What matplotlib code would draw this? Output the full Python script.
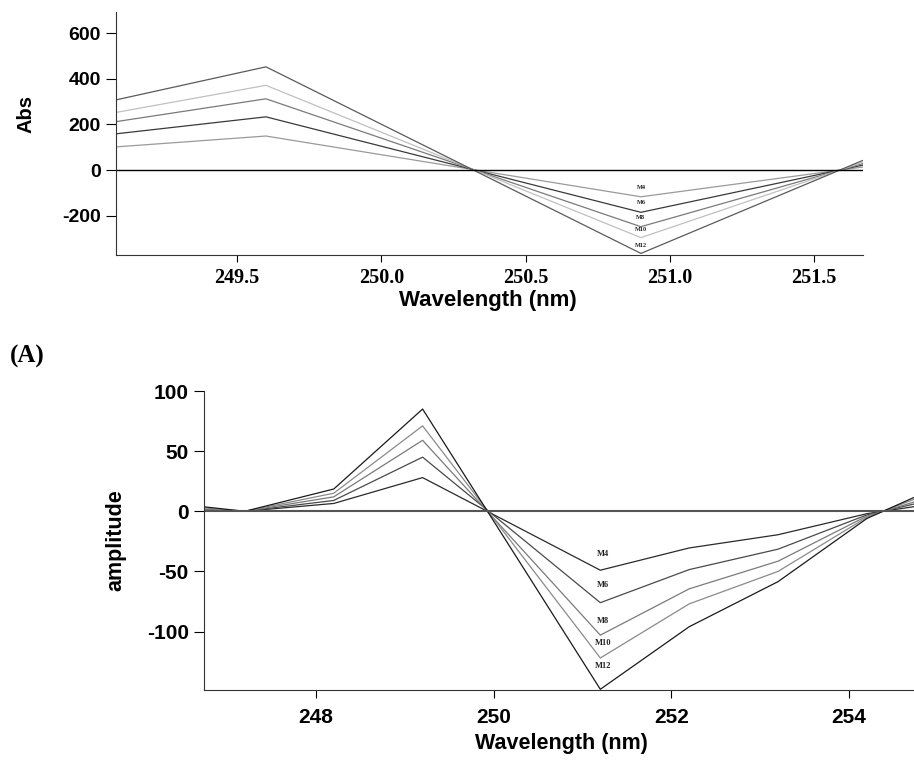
import matplotlib.pyplot as plt

# ============================================
# DATA
# ============================================

series = ['M4', 'M6', 'M8', 'M10', 'M12']

# top panel (Abs)
wl_top = [248.3, 249.6, 250.9, 252.2]
abs_m4 = [30, 149, -117, 103]
abs_m6 = [47, 233, -185, 164]
abs_m8 = [62, 312, -248, 219]
abs_m10 = [74, 371, -296, 262]
abs_m12 = [90, 452, -365, 323]

# bottom panel (amplitude)
wl_bot = [246.2, 247.2, 248.2, 249.2, 251.2, 252.2, 253.2, 254.2, 255.2]
amp_m4 = [1, 0, 6.5, 28, -49, -30.5, -19.5, -2, 9]
amp_m6 = [2.5, 0, 9, 45, -76, -48.5, -31.5, -3, 14]
amp_m8 = [4, 0, 12, 59, -103, -64.5, -41.5, -4, 18]
amp_m10 = [6, 0, 15, 71, -122, -77, -50, -5, 23]
amp_m12 = [8, 0, 18.5, 85, -148, -96, -58.5, -6, 27]

top_ticks_x = [249.5, 250.0, 250.5, 251.0, 251.5]
top_ticks_y = [-200, 0, 200, 400, 600]
bot_ticks_x = [248, 250, 252, 254]
bot_ticks_y = [-100, -50, 0, 50, 100]

# ============================================
# STYLE
# ============================================

plt.rcParams['axes.unicode_minus'] = False
sans = 'Liberation Sans'
serif = 'Liberation Serif'
top_colors = ['#9a9a9a', '#3a3a3a', '#7a7a7a', '#c0c0c0', '#5a5a5a']
bot_colors = ['#2a2a2a', '#4a4a4a', '#7a7a7a', '#8a8a8a', '#1a1a1a']
top_lbl_off = [5, 5, 5, 4, 4]
bot_lbl_off = [9, 10, 7, 8, 14]

fig = plt.figure(figsize=(9.14, 7.61), dpi=100)

# ============================================
# TOP PANEL
# ============================================

ax1 = fig.add_axes([0.1269, 0.6649, 0.8173, 0.3193])
top_data = [abs_m4, abs_m6, abs_m8, abs_m10, abs_m12]
for name, vals, c, off in zip(series, top_data, top_colors, top_lbl_off):
    ax1.plot(wl_top, vals, color=c, lw=0.9)
    i = vals.index(min(vals))
    ax1.annotate(name, xy=(wl_top[i], vals[i]), xytext=(0, off),
                 textcoords='offset points', ha='center', va='bottom',
                 fontsize=4.5, family=serif, fontweight='bold', color='#222222')
ax1.axhline(0, color='black', lw=1)
ax1.set_xlim(249.08, 251.67)
ax1.set_ylim(-372, 692)
ax1.set_xticks(top_ticks_x)
ax1.set_xticklabels([f'{v:.1f}' for v in top_ticks_x], family=serif,
                    fontweight='bold', fontsize=14.5)
ax1.set_yticks(top_ticks_y)
ax1.set_yticklabels([str(v) for v in top_ticks_y], family=sans,
                    fontweight='bold', fontsize=14)
ax1.tick_params(axis='y', length=7, width=0.8, pad=4)
ax1.tick_params(axis='x', length=5, width=0.8, pad=4)
ax1.set_xlabel('Wavelength (nm)', family=sans, fontweight='bold', fontsize=16)
ax1.set_ylabel('Abs', family=sans, fontweight='bold', fontsize=14.5)
ax1.xaxis.set_label_coords(0.498, -0.144)
ax1.yaxis.set_label_coords(-0.108, 0.58)
for s in ['top', 'right']:
    ax1.spines[s].set_visible(False)
for s in ['left', 'bottom']:
    ax1.spines[s].set_color('#333333')

fig.text(0.011, 0.531, '(A)', family=serif, fontweight='bold', fontsize=18,
         va='center', ha='left')

# ============================================
# BOTTOM PANEL
# ============================================

ax2 = fig.add_axes([0.2232, 0.0933, 0.7768, 0.3929])
bot_data = [amp_m4, amp_m6, amp_m8, amp_m10, amp_m12]
for name, vals, c, off in zip(series, bot_data, bot_colors, bot_lbl_off):
    ax2.plot(wl_bot, vals, color=c, lw=0.9)
    i = vals.index(min(vals))
    ax2.annotate(name, xy=(wl_bot[i], vals[i]), xytext=(2, off),
                 textcoords='offset points', ha='center', va='bottom',
                 fontsize=6, family=serif, fontweight='bold', color='#222222')
ax2.axhline(0, color='#555555', lw=1.5)
ax2.set_xlim(246.74, 254.73)
ax2.set_ylim(-148.6, 100)
ax2.set_xticks(bot_ticks_x)
ax2.set_yticks(bot_ticks_y)
for lab in ax2.get_xticklabels() + ax2.get_yticklabels():
    lab.set_family(sans)
    lab.set_fontweight('bold')
    lab.set_fontsize(15)
ax2.tick_params(axis='y', length=7, width=0.8, pad=4)
ax2.tick_params(axis='x', length=6, width=0.8, pad=7)
ax2.set_xlabel('Wavelength (nm)', family=sans, fontweight='bold', fontsize=15.5)
ax2.set_ylabel('amplitude', family=sans, fontweight='bold', fontsize=15.5)
ax2.xaxis.set_label_coords(0.504, -0.144)
ax2.yaxis.set_label_coords(-0.109, 0.5)
for s in ['top', 'right']:
    ax2.spines[s].set_visible(False)
for s in ['left', 'bottom']:
    ax2.spines[s].set_color('#333333')

plt.savefig('out.png', dpi=100)
